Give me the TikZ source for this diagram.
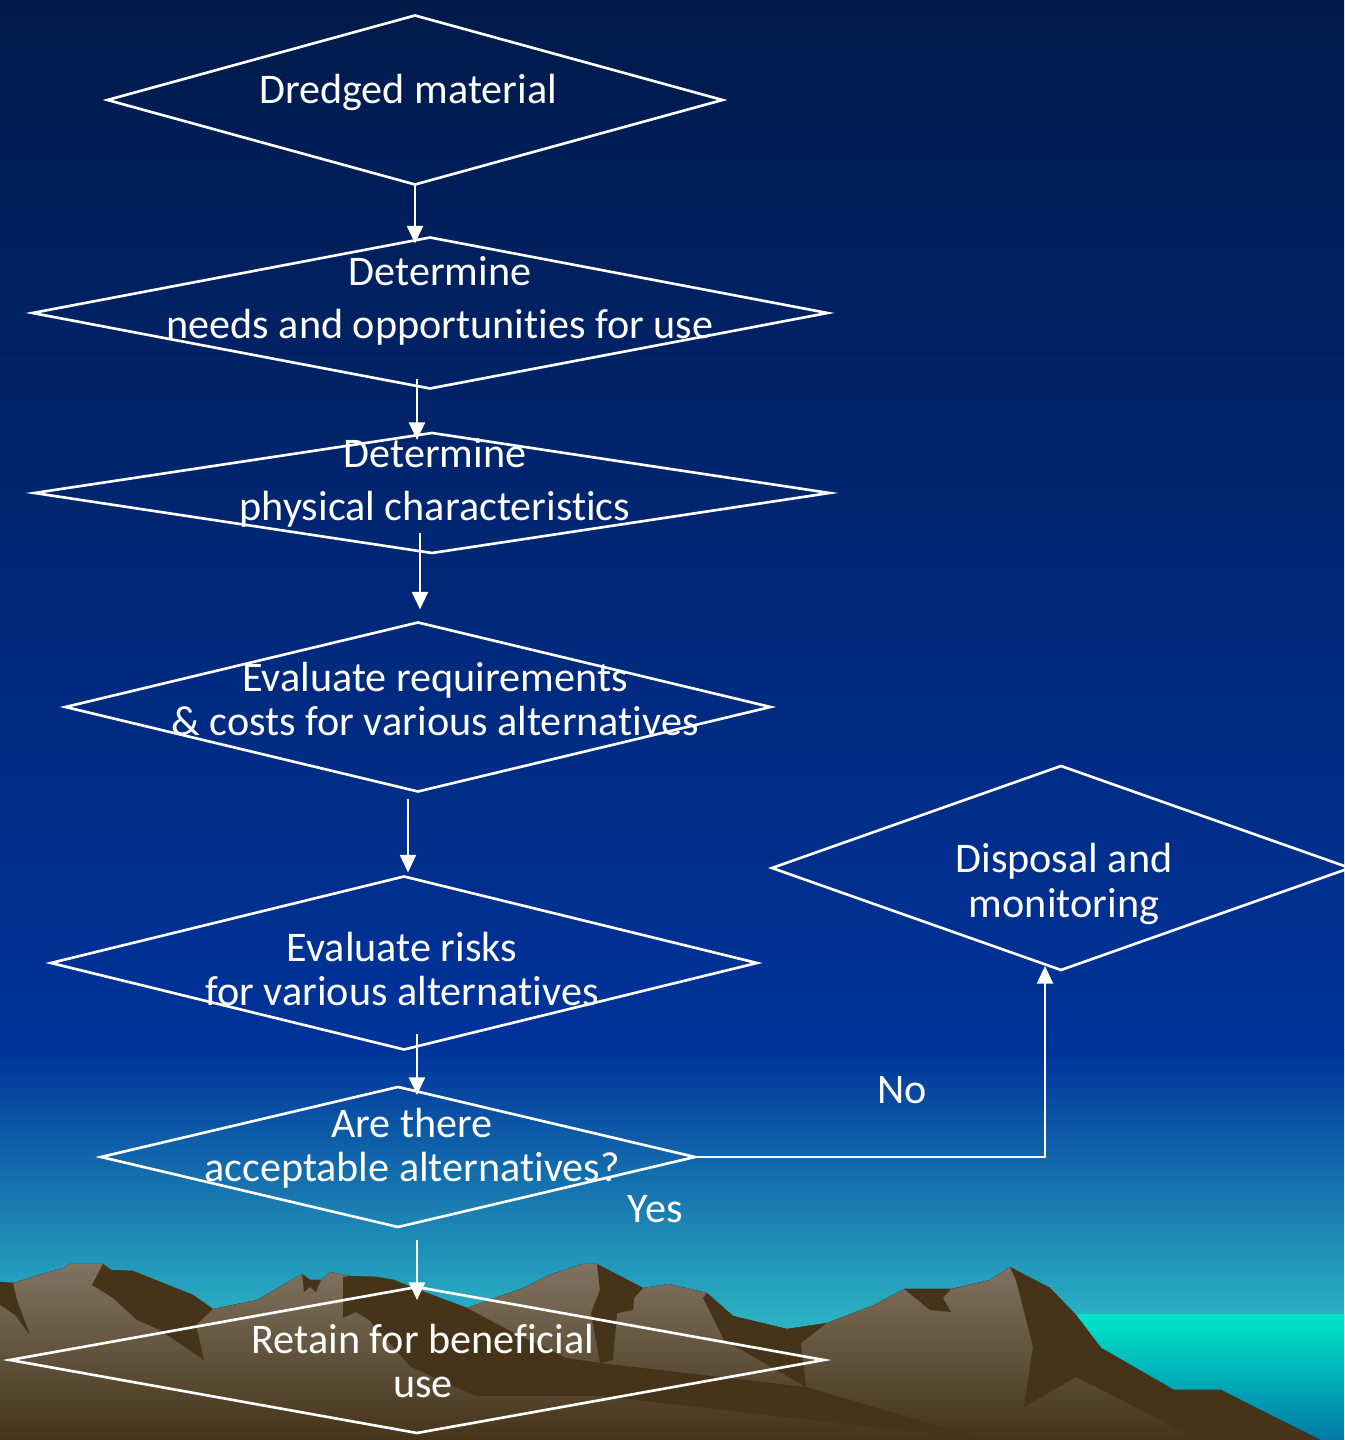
\documentclass[tikz,border=0pt]{standalone}
\usepackage{fontspec}
\setmainfont{Carlito}[RawFeature={-liga;-clig;-dlig}]
\usetikzlibrary{shapes.geometric}
\usetikzlibrary{arrows.meta}
\usetikzlibrary{calc}

\definecolor{skytop}{HTML}{001A4A}
\definecolor{skymid}{HTML}{00339B}
\definecolor{skylow}{HTML}{2BB2C2}
\definecolor{rocklight}{HTML}{807360}
\definecolor{rockdark}{HTML}{45341A}
\definecolor{seatop}{HTML}{00E6C8}
\definecolor{seadeep}{HTML}{0078A8}

\tikzset{
  choice/.style={diamond,draw=white,line width=0.75pt,inner sep=0pt,outer sep=0pt},
  caption/.style={text=white,align=center,font=\fontsize{12}{12.6}\selectfont},
  flow/.style={white,line width=0.75pt,-{Triangle[width=4.5pt,length=5pt]}},
  shade/.style={fill=rockdark,draw=none}
}

\begin{document}
\begin{tikzpicture}
\useasboundingbox (0,0) rectangle (13.44,14.4);
% sky and sea
\fill[top color=skytop,bottom color=skymid] (0,3.9) rectangle (13.44,14.4);
\fill[top color=skymid,bottom color=skylow] (0,1.2) rectangle (13.44,3.9);
\fill[skylow] (0,0) rectangle (13.44,1.2);
\fill[top color=seatop,bottom color=seadeep] (10.6,0) rectangle (13.44,1.25);

% mountains
\fill[top color=rocklight,bottom color=rockdark] (0,1.58) -- (0.13,1.57) -- (0.39,1.65) -- (0.64,1.72) -- (0.69,1.76) -- (1.03,1.76) -- (1.11,1.70) -- (1.33,1.69) -- (1.93,1.45) -- (2.13,1.31) -- (2.57,1.40) -- (3.02,1.66) -- (3.10,1.60) -- (3.21,1.60) -- (3.30,1.68) -- (3.51,1.64) -- (3.77,1.63) -- (3.94,1.60) -- (4.11,1.53) -- (4.67,1.32) -- (5.23,1.52) -- (5.49,1.65) -- (5.83,1.76) -- (5.97,1.76) -- (6.43,1.52) -- (6.69,1.56) -- (7.07,1.47) -- (7.33,1.24) -- (7.87,1.11) -- (8.27,1.17) -- (8.74,1.35) -- (9.04,1.51) -- (9.51,1.51) -- (9.90,1.60) -- (10.10,1.73) -- (10.50,1.52) -- (10.76,1.25) -- (11.01,0.92) -- (11.74,0.50) -- (12.21,0.50) -- (12.86,0.17) -- (13.20,0) -- (0,0) -- cycle;
\fill[shade] (0,1.58) -- (0.13,1.57) -- (0.17,1.40) -- (0.30,1.05) -- (0.15,1.25) -- (0,1.35) -- cycle;
\fill[shade] (1.03,1.76) -- (1.11,1.70) -- (1.33,1.69) -- (1.93,1.45) -- (2.13,1.31) -- (1.96,1.15) -- (2.04,0.80) -- (1.60,1.10) -- (1.37,1.20) -- (1.13,1.42) -- (0.92,1.55) -- cycle;
\fill[shade] (3.02,1.66) -- (3.10,1.60) -- (3.21,1.60) -- (3.16,1.48) -- (3.10,1.53) -- (3.04,1.48) -- cycle;
\fill[shade] (3.43,1.63) -- (3.51,1.64) -- (3.77,1.63) -- (3.94,1.60) -- (4.11,1.53) -- (4.67,1.32) -- (5.14,1.07) -- (5.66,0.82) -- (6.00,0.77) -- (8.06,0.53) -- (9.86,0) -- (6.00,0.44) -- (4.76,0.44) -- (4.11,0.73) -- (3.69,1.20) -- (3.56,1.28) -- (3.43,1.22) -- cycle;
\fill[shade] (5.97,1.76) -- (6.43,1.52) -- (6.34,1.42) -- (6.33,1.30) -- (6.17,1.27) -- (6.13,0.80) -- (6.00,0.77) -- (5.91,1.27) -- (6.00,1.50) -- cycle;
\fill[shade] (7.07,1.47) -- (7.33,1.24) -- (7.87,1.11) -- (8.27,1.17) -- (8.01,0.97) -- (8.06,0.53) -- (7.24,1.00) -- (7.03,1.42) -- cycle;
\fill[shade] (9.04,1.51) -- (9.51,1.51) -- (9.43,1.42) -- (9.51,1.28) -- (9.30,1.30) -- cycle;
\fill[shade] (10.10,1.73) -- (10.50,1.52) -- (10.76,1.25) -- (11.01,0.92) -- (11.74,0.50) -- (12.21,0.50) -- (12.86,0.17) -- (13.20,0) -- (12.00,0) -- (10.76,0.63) -- (10.24,0.33) -- (10.33,0.93) -- (10.16,1.60) -- cycle;

% decision shapes
\node[choice,minimum width=6.15cm,minimum height=1.69cm] (dredged) at (4.15,13.40) {};
\node[choice,minimum width=7.95cm,minimum height=1.51cm] (needs) at (4.30,11.27) {};
\node[choice,minimum width=7.95cm,minimum height=1.20cm] (physical) at (4.32,9.47) {};
\node[choice,minimum width=7.05cm,minimum height=1.69cm] (costs) at (4.18,7.33) {};
\node[choice,minimum width=7.06cm,minimum height=1.73cm] (risks) at (4.04,4.77) {};
\node[choice,minimum width=5.94cm,minimum height=1.40cm] (accept) at (3.98,2.83) {};
\node[choice,minimum width=8.14cm,minimum height=1.46cm] (retain) at (4.17,0.80) {};
\node[choice,minimum width=5.78cm,minimum height=2.04cm] (disposal) at (10.61,5.72) {};

\node[caption] (t-dredged) at (4.08,13.48) {Dredged material};
\node[caption] (t-needs) at (4.40,11.39) {Determine\\[2.3pt] needs and opportunities for use};
\node[caption] (t-physical) at (4.35,9.57) {Determine\\[2.3pt] physical characteristics};
\node[caption] (t-costs) at (4.35,7.41) {Evaluate requirements\\ \& costs for various alternatives};
\node[caption] (t-risks) at (4.02,4.71) {Evaluate risks\\ for various alternatives};
\node[caption] (t-accept) at (4.12,2.92) {Are there\\ acceptable alternatives?};
\node[caption] (t-retain) at (4.23,0.79) {Retain for beneficial\\ use};
\node[caption] (t-disposal) at (10.64,5.56) {Disposal and\\ monitoring};
\node[caption] (no) at (9.02,3.50) {No};
\node[caption] (yes) at (6.55,2.31) {Yes};

% connectors
\draw[flow] (dredged.south) -- ($(dredged.south |- needs.north)+(0,-0.06)$);
\draw[flow] ($(needs.south -| dredged.south)+(0.02,0.09)$) -- ($(physical.north -| dredged.south)+(0.02,-0.07)$);
\draw[flow] ($(physical.south)+(-0.12,0.20)$) -- ($(physical.south |- costs.north)+(-0.12,0.13)$);
\draw[flow] ($(costs.south)+(-0.10,-0.08)$) -- ($(costs.south |- risks.north)+(-0.10,0.04)$);
\draw[flow] ($(risks.south)+(0.13,0.15)$) -- ($(risks.south |- accept.north)+(0.13,-0.08)$);
\draw[flow] ($(accept.south)+(0.19,-0.13)$) -- ($(accept.south |- retain.north)+(0.19,-0.13)$);
\draw[flow] (accept.east) -| ($(disposal.south)+(-0.16,0.04)$);
\end{tikzpicture}
\end{document}
